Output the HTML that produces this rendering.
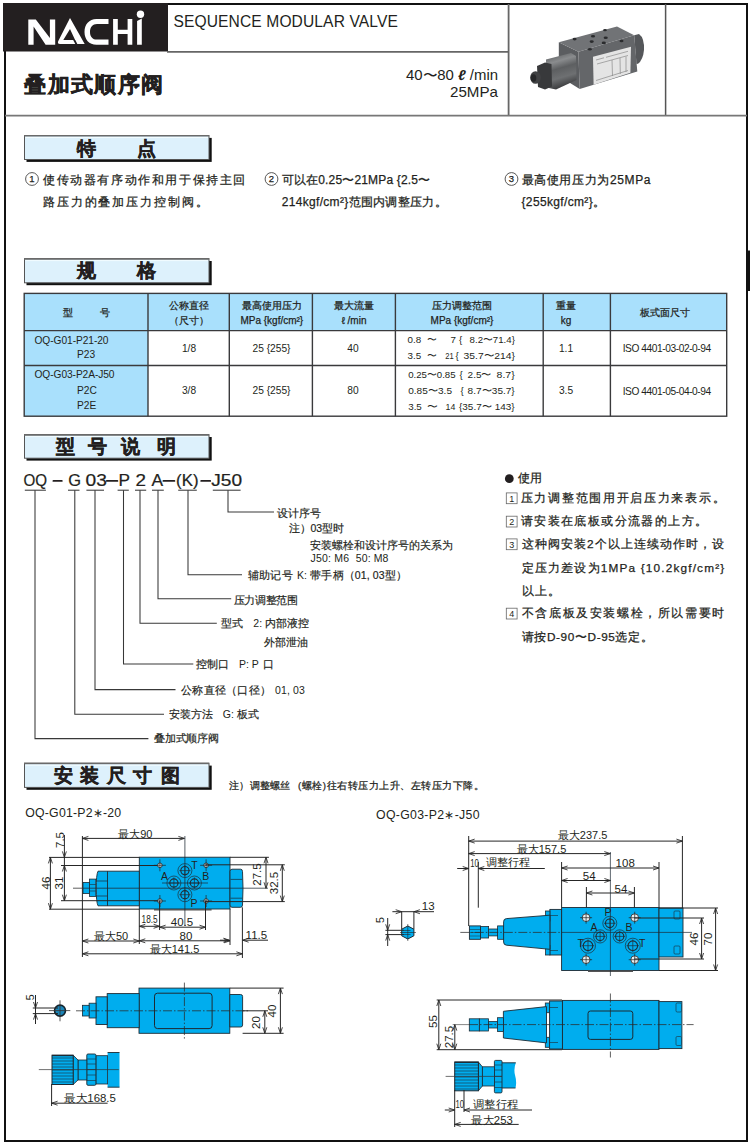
<!DOCTYPE html>
<html><head><meta charset="utf-8">
<style>
html,body{margin:0;padding:0;background:#fff;}
body{width:750px;height:1144px;overflow:hidden;position:relative;font-family:"Liberation Sans",sans-serif;}
svg{position:absolute;left:0;top:0;}
svg text{font-family:"Liberation Sans",sans-serif;fill:#231f20;}
.m{stroke:#231f20;stroke-width:0.25px;}
.m2{stroke:#231f20;stroke-width:0.18px;}
.d{fill:#2a2a2c;}
</style></head><body>
<svg width="750" height="1144" viewBox="0 0 750 1144">

<rect x="5" y="4" width="742" height="1137" fill="none" stroke="#111" stroke-width="2"/>
<rect x="3" y="3" width="165" height="48.5" fill="#231f20"/>
<g id="logo" fill="#fff">
  <path d="M28.3 19.5H35.8L49.9 38V19.5H55.2V44.7H45.6L33.6 26.5V44.7H28.3Z"/>
  <path d="M60 44Q57 44 58.3 41L70 18L84.7 44ZM63.3 40.1L70 28.9L75.1 40.1Z" fill-rule="evenodd"/>
  <path d="M73.2 40L75.3 40L77.6 44.5L75.5 44.5Z" fill="#231f20"/>
  <path d="M108.5 19H96.5C89 19 84.5 24.5 84.5 31.9C84.5 39.3 89 44.7 96.5 44.7H108.5V39.6H97C92.6 39.6 90 36.5 90 31.9C90 27.3 92.6 24.1 97 24.1H108.5Z"/>
  <path d="M113.1 19H117.8V29.7H127.6V19H132.3V44.7H127.6V33.9H117.8V44.7H113.1Z"/>
  <path d="M137.1 21L141.8 18.5V44.7H137.1Z"/>
  <circle cx="140.5" cy="14.3" r="3.7"/>
</g>
<line x1="167" y1="51.8" x2="508.6" y2="51.8" stroke="#666" stroke-width="1.8"/>
<line x1="508.6" y1="4" x2="508.6" y2="115.6" stroke="#666" stroke-width="1.8"/>
<line x1="665.6" y1="4" x2="665.6" y2="115.6" stroke="#555" stroke-width="1.5"/>
<line x1="5" y1="115.6" x2="747" y2="115.6" stroke="#777" stroke-width="1.8"/>
<text x="173.5" y="26.5" font-size="15.6" textLength="224.3" lengthAdjust="spacing">SEQUENCE MODULAR VALVE</text>
<text x="24.3" y="91.8" font-size="21.5" letter-spacing="1.4" font-weight="bold" stroke="#231f20" stroke-width="0.4">叠加式顺序阀</text>
<text x="406" y="79.8" font-size="14.3" textLength="92" lengthAdjust="spacingAndGlyphs">40〜80 <tspan font-weight="bold" font-style="italic">ℓ</tspan> /min</text>
<text x="450" y="97.4" font-size="14.3" textLength="48" lengthAdjust="spacingAndGlyphs">25MPa</text>
<defs><linearGradient id="cyl" x1="0" y1="0" x2="0.25" y2="1"><stop offset="0" stop-color="#505254"/><stop offset="0.3" stop-color="#8a8c8e"/><stop offset="0.5" stop-color="#5d5f61"/><stop offset="0.75" stop-color="#6e7072"/><stop offset="1" stop-color="#3e3f41"/></linearGradient></defs>
<g id="photo">
  <path d="M558.8 42.3 L578.4 51.8 L579.7 89.1 L558.8 76Z" fill="#5b5d60"/>
  <path d="M558.8 42.3 L617 26.4 L634.2 35.3 L578.4 51.8Z" fill="#717376"/>
  <path d="M578.4 51.8 L634.2 35.3 L637.3 71.4 L579.7 89.1Z" fill="#646669"/>
  <path d="M634.2 35.3 L639 34 Q644.5 38 644 50 Q643 60 638 63.8 L636.5 64Z" fill="#55575a"/>
  <path d="M593 56.8 L631 46.7 L630.4 72.7 L593.6 84.7Z" fill="#e4e4e4"/>
  <path d="M596 60 L604 57.8 M606 57.3 L628 51.3 M597 64 L628 55.5 M612 60 L612.5 76 M620 58 L620.3 74 M626 56.5 L626 72 M596 80.5 L628 70.5" stroke="#8a8a8a" stroke-width="0.7" fill="none"/>
  <path d="M546 59.5 L571 53 L576 56 L576.5 80 L556 89.5 L546.5 87.5Z" fill="url(#cyl)"/>
  <path d="M537 66 L545 62.5 L551.5 64 L552 86.5 L545 89.5 L538 87Z" fill="#38393b"/>
  <ellipse cx="535.5" cy="77.5" rx="5.3" ry="6.3" fill="#404143"/>
  <ellipse cx="533.5" cy="78" rx="2.8" ry="3.8" fill="#262729"/>
  <g fill="#2a2b2d"><ellipse cx="574.6" cy="39.1" rx="2" ry="1.3"/><ellipse cx="593" cy="36.2" rx="2.1" ry="1.3"/><ellipse cx="605" cy="30.2" rx="1.9" ry="1.1"/><ellipse cx="605.7" cy="37.8" rx="2.1" ry="1.3"/><ellipse cx="591.7" cy="41.6" rx="2.1" ry="1.3"/><ellipse cx="603.8" cy="42.9" rx="2.1" ry="1.3"/><ellipse cx="621.5" cy="41" rx="2" ry="1.2"/><ellipse cx="589.8" cy="49.2" rx="2" ry="1.3"/></g>
</g>
<rect x="746" y="250.5" width="4" height="40.5" fill="#111"/>
<rect x="26.5" y="137.9" width="185.2" height="24" fill="#111"/>
<rect x="24.5" y="135.5" width="184.5" height="24" fill="#ddf1fc" stroke="#555" stroke-width="1"/>
<line x1="24" y1="135.8" x2="209" y2="135.8" stroke="#6a6a6a" stroke-width="1.6"/>
<line x1="25.5" y1="137.5" x2="208" y2="137.5" stroke="#f2fcff" stroke-width="1"/>
<rect x="26.5" y="261.0" width="185.2" height="24.2" fill="#111"/>
<rect x="24.5" y="258.6" width="184.5" height="24.2" fill="#ddf1fc" stroke="#555" stroke-width="1"/>
<line x1="24" y1="258.90000000000003" x2="209" y2="258.90000000000003" stroke="#6a6a6a" stroke-width="1.6"/>
<line x1="25.5" y1="260.6" x2="208" y2="260.6" stroke="#f2fcff" stroke-width="1"/>
<rect x="26.5" y="437.0" width="185.2" height="23.6" fill="#111"/>
<rect x="24.5" y="434.6" width="184.5" height="23.6" fill="#ddf1fc" stroke="#555" stroke-width="1"/>
<line x1="24" y1="434.90000000000003" x2="209" y2="434.90000000000003" stroke="#6a6a6a" stroke-width="1.6"/>
<line x1="25.5" y1="436.6" x2="208" y2="436.6" stroke="#f2fcff" stroke-width="1"/>
<rect x="26.5" y="765.6" width="185.2" height="24.2" fill="#111"/>
<rect x="24.5" y="763.2" width="184.5" height="24.2" fill="#ddf1fc" stroke="#555" stroke-width="1"/>
<line x1="24" y1="763.5" x2="209" y2="763.5" stroke="#6a6a6a" stroke-width="1.6"/>
<line x1="25.5" y1="765.2" x2="208" y2="765.2" stroke="#f2fcff" stroke-width="1"/>
<text x="76.5" y="155.3" font-size="18.5" font-weight="bold" stroke="#231f20" stroke-width="0.45">特</text>
<text x="137.3" y="155.3" font-size="18.5" font-weight="bold" stroke="#231f20" stroke-width="0.45">点</text>
<text x="76.5" y="277.3" font-size="18.5" font-weight="bold" stroke="#231f20" stroke-width="0.45">规</text>
<text x="137.3" y="277.3" font-size="18.5" font-weight="bold" stroke="#231f20" stroke-width="0.45">格</text>
<text x="56.2" y="453.1" font-size="18.5" font-weight="bold" stroke="#231f20" stroke-width="0.45">型</text>
<text x="88" y="453.1" font-size="18.5" font-weight="bold" stroke="#231f20" stroke-width="0.45">号</text>
<text x="121" y="453.1" font-size="18.5" font-weight="bold" stroke="#231f20" stroke-width="0.45">说</text>
<text x="156.5" y="453.1" font-size="18.5" font-weight="bold" stroke="#231f20" stroke-width="0.45">明</text>
<text x="53.8" y="781.9" font-size="18.5" font-weight="bold" stroke="#231f20" stroke-width="0.45">安</text>
<text x="80" y="781.9" font-size="18.5" font-weight="bold" stroke="#231f20" stroke-width="0.45">装</text>
<text x="106.5" y="781.9" font-size="18.5" font-weight="bold" stroke="#231f20" stroke-width="0.45">尺</text>
<text x="133" y="781.9" font-size="18.5" font-weight="bold" stroke="#231f20" stroke-width="0.45">寸</text>
<text x="160.5" y="781.9" font-size="18.5" font-weight="bold" stroke="#231f20" stroke-width="0.45">图</text>
<circle cx="32" cy="179" r="6.4" fill="none" stroke="#444" stroke-width="0.9"/>
<text x="32" y="182.4" font-size="9.5" text-anchor="middle" class="m">1</text>
<circle cx="271.5" cy="179" r="6.4" fill="none" stroke="#444" stroke-width="0.9"/>
<text x="271.5" y="182.4" font-size="9.5" text-anchor="middle" class="m">2</text>
<circle cx="511.5" cy="179" r="6.4" fill="none" stroke="#444" stroke-width="0.9"/>
<text x="511.5" y="182.4" font-size="9.5" text-anchor="middle" class="m">3</text>
<text x="43" y="183.6" font-size="12" letter-spacing="1.6" class="m">使传动器有序动作和用于保持主回</text>
<text x="43" y="205.8" font-size="12" letter-spacing="1.87" class="m">路压力的叠加压力控制阀。</text>
<text x="281.7" y="183.6" font-size="12" textLength="148.5" lengthAdjust="spacing" class="m">可以在0.25〜21MPa {2.5〜</text>
<text x="281.7" y="205.8" font-size="12" textLength="165" lengthAdjust="spacing" class="m">214kgf/cm²}范围内调整压力。</text>
<text x="521.5" y="183.6" font-size="12" textLength="129" lengthAdjust="spacing" class="m">最高使用压力为25MPa</text>
<text x="521.5" y="205.8" font-size="12" textLength="83.5" lengthAdjust="spacing" class="m">{255kgf/cm²}。</text>
<rect x="24" y="293.4" width="702.7" height="37" fill="#a9e0fc"/>
<rect x="24" y="330.4" width="124" height="86" fill="#a9e0fc"/>
<g stroke="#3a3a3c" stroke-width="1.4" fill="none">
<rect x="24.2" y="293.4" width="702.5" height="122.8"/>
<line x1="24" y1="330.6" x2="726.7" y2="330.6"/>
<line x1="24" y1="365.5" x2="726.7" y2="365.5"/>
<line x1="148" y1="293.4" x2="148" y2="416.2"/>
<line x1="229.3" y1="293.4" x2="229.3" y2="416.2"/>
<line x1="312.4" y1="293.4" x2="312.4" y2="416.2"/>
<line x1="395.4" y1="293.4" x2="395.4" y2="416.2"/>
<line x1="543.2" y1="293.4" x2="543.2" y2="416.2"/>
<line x1="610.4" y1="293.4" x2="610.4" y2="416.2"/>
</g>
<g font-size="10">
<text x="62.5" y="316.3" font-size="10" class="m">型</text>
<text x="100.2" y="316.3" font-size="10" class="m">号</text>
<text x="188.8" y="309" font-size="10" text-anchor="middle" class="m">公称直径</text>
<text x="188.8" y="323.5" font-size="10" text-anchor="middle" class="m">（尺寸）</text>
<text x="271.8" y="309" font-size="10" text-anchor="middle" class="m">最高使用压力</text>
<text x="271.8" y="323.5" font-size="10" text-anchor="middle" class="m">MPa {kgf/cm²}</text>
<text x="354" y="309" font-size="10" text-anchor="middle" class="m">最大流量</text>
<text x="354" y="323.5" font-size="10" text-anchor="middle" class="m">ℓ /min</text>
<text x="462" y="309" font-size="10" text-anchor="middle" class="m">压力调整范围</text>
<text x="462" y="323.5" font-size="10" text-anchor="middle" class="m">MPa {kgf/cm²}</text>
<text x="566" y="309" font-size="10" text-anchor="middle" class="m">重量</text>
<text x="566" y="323.5" font-size="10" text-anchor="middle" class="m">kg</text>
<text x="665" y="316" font-size="10" text-anchor="middle" class="m">板式面尺寸</text>
</g>
<text x="34.5" y="343.5" font-size="10.2" textLength="74" lengthAdjust="spacing">OQ-G01-P21-20</text>
<text x="77" y="358" font-size="10.2">P23</text>
<text x="34.5" y="377.7" font-size="10.2" textLength="80" lengthAdjust="spacing">OQ-G03-P2A-J50</text>
<text x="77" y="393.7" font-size="10.2">P2C</text>
<text x="77" y="408.5" font-size="10.2">P2E</text>
<text x="189" y="351.5" font-size="10.2" text-anchor="middle">1/8</text>
<text x="189" y="394" font-size="10.2" text-anchor="middle">3/8</text>
<text x="271.5" y="351.5" font-size="10.2" text-anchor="middle">25 {255}</text>
<text x="271.5" y="394" font-size="10.2" text-anchor="middle">25 {255}</text>
<text x="353" y="351.5" font-size="10.2" text-anchor="middle">40</text>
<text x="353" y="394" font-size="10.2" text-anchor="middle">80</text>
<text x="566" y="351.5" font-size="10.2" text-anchor="middle">1.1</text>
<text x="566" y="394" font-size="10.2" text-anchor="middle">3.5</text>
<text x="622.7" y="351.5" font-size="10.2" textLength="88.5" lengthAdjust="spacing">ISO 4401-03-02-0-94</text>
<text x="622.7" y="394.5" font-size="10.2" textLength="88.5" lengthAdjust="spacing">ISO 4401-05-04-0-94</text>
<text x="407.6" y="343.4" font-size="9.8">0.8</text>
<text x="426.6" y="343.4" font-size="9.8" textLength="9.8" lengthAdjust="spacingAndGlyphs">〜</text>
<text x="450.6" y="343.4" font-size="9.8">7</text>
<text x="458.90000000000003" y="343.4" font-size="9.8">{</text>
<text x="469.6" y="343.4" font-size="9.8" textLength="45.3" lengthAdjust="spacingAndGlyphs">8.2〜71.4}</text>
<text x="407.6" y="358.8" font-size="9.8">3.5</text>
<text x="427.1" y="358.8" font-size="9.8" textLength="9.8" lengthAdjust="spacingAndGlyphs">〜</text>
<text x="445.20000000000005" y="358.8" font-size="9.8" textLength="8.4" lengthAdjust="spacingAndGlyphs">21</text>
<text x="455.6" y="358.8" font-size="9.8">{</text>
<text x="463.6" y="358.8" font-size="9.8" textLength="51.3" lengthAdjust="spacingAndGlyphs">35.7〜214}</text>
<text x="408.20000000000005" y="378" font-size="9.8" textLength="47.4" lengthAdjust="spacingAndGlyphs">0.25〜0.85</text>
<text x="459.6" y="378" font-size="9.8">{</text>
<text x="467.6" y="378" font-size="9.8" textLength="24.1" lengthAdjust="spacingAndGlyphs">2.5〜</text>
<text x="496.6" y="378" font-size="9.8" textLength="18.1" lengthAdjust="spacingAndGlyphs">8.7}</text>
<text x="408.20000000000005" y="394.4" font-size="9.8" textLength="43.8" lengthAdjust="spacingAndGlyphs">0.85〜3.5</text>
<text x="460.6" y="394.4" font-size="9.8">{</text>
<text x="467.6" y="394.4" font-size="9.8" textLength="47.099999999999994" lengthAdjust="spacingAndGlyphs">8.7〜35.7}</text>
<text x="408.20000000000005" y="410.4" font-size="9.8">3.5</text>
<text x="426.6" y="410.4" font-size="9.8" textLength="10.8" lengthAdjust="spacingAndGlyphs">〜</text>
<text x="445.6" y="410.4" font-size="9.8" textLength="9.8" lengthAdjust="spacingAndGlyphs">14</text>
<text x="459.0" y="410.4" font-size="9.8" textLength="55.599999999999994" lengthAdjust="spacingAndGlyphs">{35.7〜 143}</text>
<text x="23.4" y="485.6" font-size="16.2" textLength="23.6" lengthAdjust="spacingAndGlyphs" stroke="#231f20" stroke-width="0.22">OQ</text>
<text x="68.3" y="485.6" font-size="16.2" textLength="12.8" lengthAdjust="spacingAndGlyphs" stroke="#231f20" stroke-width="0.22">G</text>
<text x="85.5" y="485.6" font-size="16.2" textLength="21.3" lengthAdjust="spacingAndGlyphs" stroke="#231f20" stroke-width="0.22">03</text>
<text x="118.5" y="485.6" font-size="16.2" textLength="11.5" lengthAdjust="spacingAndGlyphs" stroke="#231f20" stroke-width="0.22">P</text>
<text x="135.5" y="485.6" font-size="16.2" textLength="10.5" lengthAdjust="spacingAndGlyphs" stroke="#231f20" stroke-width="0.22">2</text>
<text x="151.6" y="485.6" font-size="16.2" textLength="11.6" lengthAdjust="spacingAndGlyphs" stroke="#231f20" stroke-width="0.22">A</text>
<text x="176.1" y="485.6" font-size="16.2" textLength="22.4" lengthAdjust="spacingAndGlyphs" stroke="#231f20" stroke-width="0.22">(K)</text>
<text x="211.3" y="485.6" font-size="16.2" textLength="30.8" lengthAdjust="spacingAndGlyphs" stroke="#231f20" stroke-width="0.22">J50</text>
<g stroke="#231f20" stroke-width="1.8" stroke-linecap="round">
<line x1="53.4" y1="480.9" x2="61.8" y2="480.9"/>
<line x1="106.8" y1="480.9" x2="117.4" y2="480.9"/>
<line x1="163.4" y1="480.9" x2="174.4" y2="480.9"/>
<line x1="201.2" y1="480.9" x2="210.20000000000002" y2="480.9"/>
</g>
<g stroke="#383838" stroke-width="1.05" fill="none">
<line x1="24.8" y1="490.2" x2="45.9" y2="490.2"/>
<line x1="68" y1="490.2" x2="79.5" y2="490.2"/>
<line x1="86.4" y1="490.2" x2="104" y2="490.2"/>
<line x1="117.6" y1="490.2" x2="128.8" y2="490.2"/>
<line x1="135" y1="490.2" x2="146.2" y2="490.2"/>
<line x1="152" y1="490.2" x2="163.8" y2="490.2"/>
<line x1="178.2" y1="490.2" x2="196.8" y2="490.2"/>
<line x1="212.8" y1="490.2" x2="240.6" y2="490.2"/>
<polyline points="35.0,490.2 35.0,738.6 148.4,738.6"/>
<polyline points="74.8,490.2 74.8,714.3 164,714.3"/>
<polyline points="95,490.2 95,689.6 175.5,689.6"/>
<polyline points="123.5,490.2 123.5,663.9 193.3,663.9"/>
<polyline points="140,490.2 140,623.2 216.8,623.2"/>
<polyline points="158,490.2 158,598.8 231.2,598.8"/>
<polyline points="188,490.2 188,574.8 242,574.8"/>
<polyline points="228,490.2 228,512 274,512"/>
</g>
<text x="277.2" y="517.3" font-size="10.5" letter-spacing="0.05" class="m2">设计序号</text>
<text x="288.7" y="531.7" font-size="10.5" textLength="55" lengthAdjust="spacing" class="m2">注）03型时</text>
<text x="310.2" y="548.9" font-size="10.5" letter-spacing="-0.02" class="m2">安装螺栓和设计序号的关系为</text>
<text x="310.5" y="562" font-size="10.5" textLength="38.6" lengthAdjust="spacing">J50: M6</text>
<text x="355.8" y="562" font-size="10.5" textLength="32.6" lengthAdjust="spacing">50: M8</text>
<text x="247.8" y="579.0" font-size="10.5" letter-spacing="0.3" class="m2">辅助记号</text>
<text x="297.1" y="579.0" font-size="10.5">K:</text>
<text x="310.3" y="579.0" font-size="10.5" textLength="96.5" lengthAdjust="spacing" class="m2">带手柄（01, 03型）</text>
<text x="233.5" y="603.8" font-size="10.5" letter-spacing="-0.3" class="m2">压力调整范围</text>
<text x="220.6" y="626.6" font-size="10.5" letter-spacing="0.05" class="m2">型式</text>
<text x="253.3" y="626.6" font-size="10.5">2:</text>
<text x="265.2" y="626.6" font-size="10.5" letter-spacing="0.05" class="m2">内部液控</text>
<text x="264" y="645.6" font-size="10.5" letter-spacing="0.05" class="m2">外部泄油</text>
<text x="196.1" y="668.0" font-size="10.5" letter-spacing="0.05" class="m2">控制口</text>
<text x="238.9" y="668.0" font-size="10.5">P: P</text>
<text x="262.5" y="668.0" font-size="10.5" letter-spacing="0.05" class="m2">口</text>
<text x="181" y="693.9" font-size="10.5" letter-spacing="0.3" class="m2">公称直径（口径）</text>
<text x="274.9" y="693.9" font-size="10.5" textLength="30" lengthAdjust="spacing">01, 03</text>
<text x="169" y="718.4" font-size="10.5" letter-spacing="0.05" class="m2">安装方法</text>
<text x="222.8" y="718.4" font-size="10.5">G:</text>
<text x="236.5" y="718.4" font-size="10.5" letter-spacing="0.05" class="m2">板式</text>
<text x="154.4" y="741.9" font-size="10.5" letter-spacing="-0.3" class="m2">叠加式顺序阀</text>
<circle cx="509.3" cy="478.7" r="4.4" fill="#231f20"/>
<text x="518.4" y="482.14" font-size="11.8" class="m">使用</text>
<rect x="506.3" y="492.9" width="10.8" height="10.8" fill="none" stroke="#666" stroke-width="0.8"/>
<text x="511.7" y="501.7" font-size="9" text-anchor="middle">1</text>
<rect x="506.3" y="516.2" width="10.8" height="10.8" fill="none" stroke="#666" stroke-width="0.8"/>
<text x="511.7" y="525.0" font-size="9" text-anchor="middle">2</text>
<rect x="506.3" y="538.9000000000001" width="10.8" height="10.8" fill="none" stroke="#666" stroke-width="0.8"/>
<text x="511.7" y="547.7" font-size="9" text-anchor="middle">3</text>
<rect x="506.3" y="608.2" width="10.8" height="10.8" fill="none" stroke="#666" stroke-width="0.8"/>
<text x="511.7" y="617.0" font-size="9" text-anchor="middle">4</text>
<text x="520.8" y="502.14" font-size="11.8" letter-spacing="1.7" class="m">压力调整范围用开启压力来表示。</text>
<text x="520.8" y="525.44" font-size="11.8" letter-spacing="1.4" class="m">请安装在底板或分流器的上方。</text>
<text x="521.7" y="548.14" font-size="11.8" textLength="202.5" lengthAdjust="spacing" class="m">这种阀安装2个以上连续动作时，设</text>
<text x="521.7" y="572.14" font-size="11.8" textLength="202.5" lengthAdjust="spacing" class="m">定压力差设为1MPa {10.2kgf/cm²}</text>
<text x="521.7" y="595.44" font-size="11.8" letter-spacing="1.2" class="m">以上。</text>
<text x="521.7" y="617.44" font-size="11.8" textLength="202.5" lengthAdjust="spacing" class="m">不含底板及安装螺栓，所以需要时</text>
<text x="521.7" y="641.44" font-size="11.8" textLength="131" lengthAdjust="spacing" class="m">请按D-90〜D-95选定。</text>
<text x="25.2" y="817.2" font-size="12.3" textLength="96" lengthAdjust="spacing">OQ-G01-P2∗-20</text>
<text x="376" y="818.5" font-size="12.3" textLength="103.5" lengthAdjust="spacing">OQ-G03-P2∗-J50</text>
<text x="229.3" y="789.18" font-size="9.6" textLength="60.5" lengthAdjust="spacing" class="m">注）调整螺丝</text>
<text x="298" y="789.18" font-size="9.6" textLength="186" lengthAdjust="spacing" class="m">(螺栓)往右转压力上升、左转压力下降。</text>
<rect x="139.3" y="857.2" width="90.7" height="51.8" rx="0" fill="#00adee" stroke="#1d2a33" stroke-width="0.9"/>
<line x1="154" y1="909.8" x2="211.6" y2="909.8" stroke="#555" stroke-width="1.6" />
<path d="M232 869.2H240.5Q242.5 869.2 242.5 871.5Q243.5 888 242.5 905Q242.5 907.3 240.5 907.3H232Q230 907.3 230 905V871.5Q230 869.2 232 869.2Z" fill="#00adee" stroke="#1d2a33" stroke-width="0.9"/>
<line x1="230.5" y1="879.4" x2="242.3" y2="879.4" stroke="#1d2a33" stroke-width="0.7" />
<line x1="230.5" y1="898.2" x2="242.3" y2="898.2" stroke="#1d2a33" stroke-width="0.7" />
<path d="M98 871.2H139.3V905.8H98Q96.2 902 96.2 888.5Q96.2 875 98 871.2Z" fill="#00adee" stroke="#1d2a33" stroke-width="0.9"/>
<line x1="107.5" y1="871.2" x2="107.5" y2="905.8" stroke="#1d2a33" stroke-width="0.9" />
<line x1="96.5" y1="881" x2="107.5" y2="881" stroke="#1d2a33" stroke-width="0.7" />
<line x1="96.5" y1="896" x2="107.5" y2="896" stroke="#1d2a33" stroke-width="0.7" />
<rect x="89.5" y="879.1" width="6.3" height="17.3" rx="0" fill="#00adee" stroke="#1d2a33" stroke-width="0.8"/>
<line x1="89.5" y1="884.5" x2="95.8" y2="884.5" stroke="#1d2a33" stroke-width="0.6" />
<line x1="89.5" y1="891" x2="95.8" y2="891" stroke="#1d2a33" stroke-width="0.6" />
<rect x="83" y="882.4" width="6.5" height="11.2" rx="0" fill="#00adee" stroke="#1d2a33" stroke-width="0.8"/>
<line x1="49" y1="857.4" x2="139.3" y2="857.4" stroke="#262626" stroke-width="1.0" />
<line x1="61" y1="865.5" x2="159.6" y2="865.5" stroke="#262626" stroke-width="1.0" />
<line x1="61" y1="900.7" x2="159.6" y2="900.7" stroke="#262626" stroke-width="1.0" />
<line x1="49" y1="909.2" x2="139.3" y2="909.2" stroke="#262626" stroke-width="1.0" />
<line x1="50.4" y1="857.4" x2="50.4" y2="909.2" stroke="#262626" stroke-width="1.0" />
<polyline points="48.4,863.4 50.4,857.4 52.4,863.4" fill="none" stroke="#262626" stroke-width="0.85"/>
<polyline points="48.4,903.2 50.4,909.2 52.4,903.2" fill="none" stroke="#262626" stroke-width="0.85"/>
<line x1="64.4" y1="865.5" x2="64.4" y2="900.7" stroke="#262626" stroke-width="1.0" />
<polyline points="62.400000000000006,871.5 64.4,865.5 66.4,871.5" fill="none" stroke="#262626" stroke-width="0.85"/>
<polyline points="62.400000000000006,894.7 64.4,900.7 66.4,894.7" fill="none" stroke="#262626" stroke-width="0.85"/>
<line x1="64.4" y1="835" x2="64.4" y2="866" stroke="#262626" stroke-width="1.0" />
<polyline points="62.400000000000006,851.4 64.4,857.4 66.4,851.4" fill="none" stroke="#262626" stroke-width="0.85"/>
<text x="0" y="0" font-size="11.5" text-anchor="middle" transform="translate(49.5,883) rotate(-90)">46</text>
<text x="0" y="0" font-size="11.5" text-anchor="middle" transform="translate(63,883) rotate(-90)">31</text>
<text x="0" y="0" font-size="11.5" text-anchor="middle" transform="translate(63.5,840) rotate(-90)">7.5</text>
<line x1="82.4" y1="836" x2="82.4" y2="957" stroke="#262626" stroke-width="1.0" />
<line x1="82.4" y1="838.4" x2="184.4" y2="838.4" stroke="#262626" stroke-width="1.0" />
<polyline points="88.4,836.4 82.4,838.4 88.4,840.4" fill="none" stroke="#262626" stroke-width="0.85"/>
<polyline points="178.4,836.4 184.4,838.4 178.4,840.4" fill="none" stroke="#262626" stroke-width="0.85"/>
<text x="135.3" y="837.6" font-size="11" text-anchor="middle">最大90</text>
<circle cx="159.9" cy="865.3" r="2.3" fill="#e9eef0" stroke="#222" stroke-width="0.8"/>
<line x1="153.9" y1="865.3" x2="165.9" y2="865.3" stroke="#222" stroke-width="0.7" />
<line x1="159.9" y1="859.3" x2="159.9" y2="871.3" stroke="#222" stroke-width="0.7" />
<circle cx="206.1" cy="865.3" r="2.3" fill="#e9eef0" stroke="#222" stroke-width="0.8"/>
<line x1="200.1" y1="865.3" x2="212.1" y2="865.3" stroke="#222" stroke-width="0.7" />
<line x1="206.1" y1="859.3" x2="206.1" y2="871.3" stroke="#222" stroke-width="0.7" />
<circle cx="159.9" cy="901" r="2.3" fill="#e9eef0" stroke="#222" stroke-width="0.8"/>
<line x1="153.9" y1="901" x2="165.9" y2="901" stroke="#222" stroke-width="0.7" />
<line x1="159.9" y1="895" x2="159.9" y2="907" stroke="#222" stroke-width="0.7" />
<circle cx="206.1" cy="901" r="2.3" fill="#e9eef0" stroke="#222" stroke-width="0.8"/>
<line x1="200.1" y1="901" x2="212.1" y2="901" stroke="#222" stroke-width="0.7" />
<line x1="206.1" y1="895" x2="206.1" y2="907" stroke="#222" stroke-width="0.7" />
<line x1="73" y1="888.2" x2="83" y2="888.2" stroke="#2a2a2a" stroke-width="0.75" stroke-dasharray="9 2 1.5 2"/>
<line x1="83" y1="888.2" x2="268" y2="888.2" stroke="#1d2a33" stroke-width="0.75" />
<line x1="184.9" y1="836" x2="184.9" y2="926" stroke="#1d2a33" stroke-width="0.75" />
<line x1="162" y1="883" x2="208" y2="883" stroke="#1d2a33" stroke-width="0.7" />
<circle cx="184.9" cy="870.6" r="7" fill="none" stroke="#1f2d36" stroke-width="0.7"/>
<circle cx="184.9" cy="870.6" r="4.1" fill="none" stroke="#1f2d36" stroke-width="1.1"/>
<line x1="179.3" y1="870.6" x2="190.5" y2="870.6" stroke="#1f2d36" stroke-width="0.7" />
<line x1="184.9" y1="865.0" x2="184.9" y2="876.2" stroke="#1f2d36" stroke-width="0.7" />
<circle cx="173.9" cy="883" r="7" fill="none" stroke="#1f2d36" stroke-width="0.7"/>
<circle cx="173.9" cy="883" r="4.1" fill="none" stroke="#1f2d36" stroke-width="1.1"/>
<line x1="168.3" y1="883" x2="179.5" y2="883" stroke="#1f2d36" stroke-width="0.7" />
<line x1="173.9" y1="877.4" x2="173.9" y2="888.6" stroke="#1f2d36" stroke-width="0.7" />
<circle cx="194.4" cy="883" r="7" fill="none" stroke="#1f2d36" stroke-width="0.7"/>
<circle cx="194.4" cy="883" r="4.1" fill="none" stroke="#1f2d36" stroke-width="1.1"/>
<line x1="188.8" y1="883" x2="200.0" y2="883" stroke="#1f2d36" stroke-width="0.7" />
<line x1="194.4" y1="877.4" x2="194.4" y2="888.6" stroke="#1f2d36" stroke-width="0.7" />
<circle cx="184.9" cy="894.7" r="7" fill="none" stroke="#1f2d36" stroke-width="0.7"/>
<circle cx="184.9" cy="894.7" r="4.1" fill="none" stroke="#1f2d36" stroke-width="1.1"/>
<line x1="179.3" y1="894.7" x2="190.5" y2="894.7" stroke="#1f2d36" stroke-width="0.7" />
<line x1="184.9" y1="889.1" x2="184.9" y2="900.3000000000001" stroke="#1f2d36" stroke-width="0.7" />
<text x="191.2" y="869.1" font-size="10.5">T</text>
<text x="161" y="880.1" font-size="10.5">A</text>
<text x="202.2" y="880.1" font-size="10.5">B</text>
<text x="190.5" y="907.3" font-size="10.5">P</text>
<line x1="230" y1="857.3" x2="268.9" y2="857.3" stroke="#262626" stroke-width="1.0" />
<line x1="205.5" y1="864.8" x2="284.8" y2="864.8" stroke="#262626" stroke-width="1.0" />
<line x1="205.5" y1="901.6" x2="284.8" y2="901.6" stroke="#262626" stroke-width="1.0" />
<line x1="266" y1="857.3" x2="266" y2="888.3" stroke="#262626" stroke-width="1.0" />
<polyline points="264,863.3 266,857.3 268,863.3" fill="none" stroke="#262626" stroke-width="0.85"/>
<polyline points="264,882.3 266,888.3 268,882.3" fill="none" stroke="#262626" stroke-width="0.85"/>
<line x1="282.3" y1="864.8" x2="282.3" y2="901.6" stroke="#262626" stroke-width="1.0" />
<polyline points="280.3,870.8 282.3,864.8 284.3,870.8" fill="none" stroke="#262626" stroke-width="0.85"/>
<polyline points="280.3,895.6 282.3,901.6 284.3,895.6" fill="none" stroke="#262626" stroke-width="0.85"/>
<text x="0" y="0" font-size="11.5" text-anchor="middle" transform="translate(261,874.5) rotate(-90)">27.5</text>
<text x="0" y="0" font-size="11.5" text-anchor="middle" transform="translate(277.5,883) rotate(-90)">32.5</text>
<line x1="139.3" y1="909" x2="139.3" y2="944" stroke="#262626" stroke-width="1.0" />
<line x1="159.6" y1="900.8" x2="159.6" y2="930" stroke="#262626" stroke-width="1.0" />
<line x1="205.5" y1="900.8" x2="205.5" y2="930" stroke="#262626" stroke-width="1.0" />
<line x1="230" y1="909" x2="230" y2="945" stroke="#262626" stroke-width="1.0" />
<line x1="242.4" y1="907.3" x2="242.4" y2="958" stroke="#262626" stroke-width="1.0" />
<line x1="139.3" y1="926.3" x2="159.6" y2="926.3" stroke="#262626" stroke-width="1.0" />
<polyline points="145.3,924.3 139.3,926.3 145.3,928.3" fill="none" stroke="#262626" stroke-width="0.85"/>
<polyline points="153.6,924.3 159.6,926.3 153.6,928.3" fill="none" stroke="#262626" stroke-width="0.85"/>
<text x="141.6" y="923.3" font-size="10.3" textLength="16" lengthAdjust="spacingAndGlyphs">18.5</text>
<line x1="159.6" y1="927.2" x2="205.5" y2="927.2" stroke="#262626" stroke-width="1.0" />
<polyline points="165.6,925.2 159.6,927.2 165.6,929.2" fill="none" stroke="#262626" stroke-width="0.85"/>
<polyline points="199.5,925.2 205.5,927.2 199.5,929.2" fill="none" stroke="#262626" stroke-width="0.85"/>
<text x="182" y="926.3" font-size="11.5" text-anchor="middle">40.5</text>
<line x1="139.3" y1="940.8" x2="230" y2="940.8" stroke="#262626" stroke-width="1.0" />
<polyline points="145.3,938.8 139.3,940.8 145.3,942.8" fill="none" stroke="#262626" stroke-width="0.85"/>
<polyline points="224,938.8 230,940.8 224,942.8" fill="none" stroke="#262626" stroke-width="0.85"/>
<text x="186" y="940.2" font-size="11.5" text-anchor="middle">80</text>
<line x1="82.4" y1="941" x2="139.3" y2="941" stroke="#262626" stroke-width="1.0" />
<polyline points="88.4,939 82.4,941 88.4,943" fill="none" stroke="#262626" stroke-width="0.85"/>
<polyline points="133.3,939 139.3,941 133.3,943" fill="none" stroke="#262626" stroke-width="0.85"/>
<text x="111" y="939.8" font-size="11" text-anchor="middle">最大50</text>
<line x1="82.4" y1="953.8" x2="242.4" y2="953.8" stroke="#262626" stroke-width="1.0" />
<polyline points="88.4,951.8 82.4,953.8 88.4,955.8" fill="none" stroke="#262626" stroke-width="0.85"/>
<polyline points="236.4,951.8 242.4,953.8 236.4,955.8" fill="none" stroke="#262626" stroke-width="0.85"/>
<text x="174.5" y="952.8" font-size="11" text-anchor="middle">最大141.5</text>
<line x1="220" y1="940.2" x2="229.3" y2="940.2" stroke="#262626" stroke-width="1.0" />
<polyline points="223.3,938.2 229.3,940.2 223.3,942.2" fill="none" stroke="#262626" stroke-width="0.85"/>
<line x1="242.6" y1="940.2" x2="268" y2="940.2" stroke="#262626" stroke-width="1.0" />
<polyline points="248.6,938.2 242.6,940.2 248.6,942.2" fill="none" stroke="#262626" stroke-width="0.85"/>
<text x="245.6" y="938.5" font-size="11.5">11.5</text>
<circle cx="60" cy="1010.6" r="5.5" fill="#1a85b8" stroke="#14232b" stroke-width="1.6"/>
<line x1="49" y1="1010.6" x2="70.3" y2="1010.6" stroke="#333" stroke-width="0.8" />
<line x1="60" y1="1000.3" x2="60" y2="1021.3" stroke="#333" stroke-width="0.8" />
<line x1="32.8" y1="1008" x2="58" y2="1008" stroke="#262626" stroke-width="1.0" />
<line x1="32.8" y1="1013.6" x2="58" y2="1013.6" stroke="#262626" stroke-width="1.0" />
<line x1="35.5" y1="995" x2="35.5" y2="1024" stroke="#262626" stroke-width="1.0" />
<polyline points="33.5,1002 35.5,1008 37.5,1002" fill="none" stroke="#262626" stroke-width="0.85"/>
<polyline points="33.5,1019.6 35.5,1013.6 37.5,1019.6" fill="none" stroke="#262626" stroke-width="0.85"/>
<text x="0" y="0" font-size="10.5" text-anchor="middle" transform="translate(33.8,997.3) rotate(-90)">5</text>
<rect x="139" y="988.1" width="90.8" height="45.2" rx="0" fill="#00adee" stroke="#1d2a33" stroke-width="0.9"/>
<rect x="154.5" y="993.2" width="57.6" height="35.4" rx="3" fill="none" stroke="#1d2a33" stroke-width="1"/>
<path d="M229.8 994.5H240.6Q242.6 994.5 242.6 996.5V1025Q242.6 1027 240.6 1027H229.8Z" fill="#00adee" stroke="#1d2a33" stroke-width="0.9"/>
<rect x="107.2" y="993.6" width="32.0" height="34.1" rx="0" fill="#00adee" stroke="#1d2a33" stroke-width="0.9"/>
<rect x="96" y="996.8" width="11.2" height="27.7" rx="0" fill="#00adee" stroke="#1d2a33" stroke-width="0.9"/>
<rect x="89.1" y="1003.2" width="6.9" height="14.8" rx="0" fill="#00adee" stroke="#1d2a33" stroke-width="0.8"/>
<rect x="82.4" y="1005.3" width="6.7" height="10.7" rx="0" fill="#00adee" stroke="#1d2a33" stroke-width="0.8"/>
<line x1="76" y1="1010.8" x2="250" y2="1010.8" stroke="#2a2a2a" stroke-width="0.75" stroke-dasharray="9 2 1.5 2"/>
<line x1="184.4" y1="982.6" x2="184.4" y2="1039.7" stroke="#2a2a2a" stroke-width="0.75" stroke-dasharray="9 2 1.5 2"/>
<line x1="229.8" y1="988.1" x2="283.6" y2="988.1" stroke="#262626" stroke-width="1.0" />
<line x1="242.6" y1="1033.3" x2="283.6" y2="1033.3" stroke="#262626" stroke-width="1.0" />
<line x1="242.6" y1="1010.8" x2="268" y2="1010.8" stroke="#262626" stroke-width="1.0" />
<line x1="280.4" y1="988.1" x2="280.4" y2="1033.3" stroke="#262626" stroke-width="1.0" />
<polyline points="278.4,994.1 280.4,988.1 282.4,994.1" fill="none" stroke="#262626" stroke-width="0.85"/>
<polyline points="278.4,1027.3 280.4,1033.3 282.4,1027.3" fill="none" stroke="#262626" stroke-width="0.85"/>
<line x1="264.8" y1="1010.8" x2="264.8" y2="1033.3" stroke="#262626" stroke-width="1.0" />
<polyline points="262.8,1016.8 264.8,1010.8 266.8,1016.8" fill="none" stroke="#262626" stroke-width="0.85"/>
<polyline points="262.8,1027.3 264.8,1033.3 266.8,1027.3" fill="none" stroke="#262626" stroke-width="0.85"/>
<text x="0" y="0" font-size="11.5" text-anchor="middle" transform="translate(275.8,1011) rotate(-90)">40</text>
<text x="0" y="0" font-size="11.5" text-anchor="middle" transform="translate(259.5,1022.5) rotate(-90)">20</text>
<rect x="107.6" y="1052.5" width="11.9" height="34.7" rx="0" fill="#00adee" stroke="#1d2a33" stroke-width="0"/>
<line x1="107.6" y1="1052.5" x2="119.5" y2="1052.5" stroke="#1d2a33" stroke-width="0.9" />
<line x1="107.6" y1="1087.2" x2="119.5" y2="1087.2" stroke="#1d2a33" stroke-width="0.9" />
<rect x="95.9" y="1055.7" width="11.7" height="28.3" rx="0" fill="#00adee" stroke="#1d2a33" stroke-width="0.8"/>
<rect x="86.8" y="1054" width="9.1" height="31.3" rx="1.2" fill="#00adee" stroke="#1d2a33" stroke-width="0.9"/>
<line x1="86.8" y1="1059" x2="95.9" y2="1059" stroke="#1d2a33" stroke-width="0.6" />
<line x1="86.8" y1="1064" x2="95.9" y2="1064" stroke="#1d2a33" stroke-width="0.6" />
<line x1="86.8" y1="1069.6" x2="95.9" y2="1069.6" stroke="#1d2a33" stroke-width="0.6" />
<line x1="86.8" y1="1075" x2="95.9" y2="1075" stroke="#1d2a33" stroke-width="0.6" />
<line x1="86.8" y1="1080.5" x2="95.9" y2="1080.5" stroke="#1d2a33" stroke-width="0.6" />
<rect x="78" y="1060" width="8.8" height="20" rx="0" fill="#00adee" stroke="#1d2a33" stroke-width="0.8"/>
<path d="M73.2 1055.2L78 1060V1080L73.2 1084.5Z" fill="#00adee" stroke="#1d2a33" stroke-width="0.8"/>
<rect x="52" y="1055.2" width="21.2" height="29.3" rx="0" fill="#00adee" stroke="#1d2a33" stroke-width="1"/>
<line x1="52" y1="1058" x2="73.2" y2="1058" stroke="#1d2a33" stroke-width="0.6" />
<line x1="52" y1="1061" x2="73.2" y2="1061" stroke="#1d2a33" stroke-width="0.6" />
<line x1="52" y1="1064" x2="73.2" y2="1064" stroke="#1d2a33" stroke-width="0.6" />
<line x1="52" y1="1067" x2="73.2" y2="1067" stroke="#1d2a33" stroke-width="0.6" />
<line x1="52" y1="1070" x2="73.2" y2="1070" stroke="#1d2a33" stroke-width="0.6" />
<line x1="52" y1="1073" x2="73.2" y2="1073" stroke="#1d2a33" stroke-width="0.6" />
<line x1="52" y1="1076" x2="73.2" y2="1076" stroke="#1d2a33" stroke-width="0.6" />
<line x1="52" y1="1079" x2="73.2" y2="1079" stroke="#1d2a33" stroke-width="0.6" />
<line x1="52" y1="1082" x2="73.2" y2="1082" stroke="#1d2a33" stroke-width="0.6" />
<line x1="52" y1="1055.5" x2="73.2" y2="1055.5" stroke="#1d2a33" stroke-width="1.3" />
<line x1="38.8" y1="1069.6" x2="118.8" y2="1069.6" stroke="#333" stroke-width="0.7" />
<line x1="51.6" y1="1084" x2="51.6" y2="1106" stroke="#262626" stroke-width="1.0" />
<line x1="51.6" y1="1103.2" x2="107.6" y2="1103.2" stroke="#262626" stroke-width="1.0" />
<polyline points="57.6,1101.2 51.6,1103.2 57.6,1105.2" fill="none" stroke="#262626" stroke-width="0.85"/>
<text x="64.4" y="1101.6" font-size="11" textLength="51.5" lengthAdjust="spacingAndGlyphs">最大168.5</text>
<line x1="468.7" y1="836" x2="468.7" y2="926" stroke="#262626" stroke-width="1.0" />
<line x1="478.3" y1="862" x2="478.3" y2="907.7" stroke="#262626" stroke-width="1.0" />
<line x1="468.7" y1="841.1" x2="682.4" y2="841.1" stroke="#262626" stroke-width="1.0" />
<polyline points="474.7,839.1 468.7,841.1 474.7,843.1" fill="none" stroke="#262626" stroke-width="0.85"/>
<polyline points="676.4,839.1 682.4,841.1 676.4,843.1" fill="none" stroke="#262626" stroke-width="0.85"/>
<text x="582.6" y="838.5" font-size="11" text-anchor="middle">最大237.5</text>
<line x1="468.7" y1="853.6" x2="610.3" y2="853.6" stroke="#262626" stroke-width="1.0" />
<polyline points="474.7,851.6 468.7,853.6 474.7,855.6" fill="none" stroke="#262626" stroke-width="0.85"/>
<polyline points="604.3,851.6 610.3,853.6 604.3,855.6" fill="none" stroke="#262626" stroke-width="0.85"/>
<text x="541.5" y="852.5" font-size="11" text-anchor="middle">最大157.5</text>
<line x1="457.2" y1="868.5" x2="468.7" y2="868.5" stroke="#262626" stroke-width="1.0" />
<polyline points="462.7,866.5 468.7,868.5 462.7,870.5" fill="none" stroke="#262626" stroke-width="0.85"/>
<line x1="478.3" y1="868.5" x2="544.8" y2="868.5" stroke="#262626" stroke-width="1.0" />
<polyline points="484.3,866.5 478.3,868.5 484.3,870.5" fill="none" stroke="#262626" stroke-width="0.85"/>
<text x="470.2" y="866.5" font-size="10.3" textLength="8.6" lengthAdjust="spacingAndGlyphs">10</text>
<text x="486" y="866.3" font-size="11" textLength="44.5" lengthAdjust="spacingAndGlyphs">调整行程</text>
<line x1="561.6" y1="862" x2="561.6" y2="907.5" stroke="#262626" stroke-width="1.0" />
<line x1="586.4" y1="887" x2="586.4" y2="915" stroke="#262626" stroke-width="1.0" />
<line x1="634.4" y1="887" x2="634.4" y2="915" stroke="#262626" stroke-width="1.0" />
<line x1="659" y1="862" x2="659" y2="908" stroke="#262626" stroke-width="1.0" />
<line x1="682.4" y1="836" x2="682.4" y2="908" stroke="#262626" stroke-width="1.0" />
<line x1="561.6" y1="868" x2="659" y2="868" stroke="#262626" stroke-width="1.0" />
<polyline points="567.6,866 561.6,868 567.6,870" fill="none" stroke="#262626" stroke-width="0.85"/>
<polyline points="653,866 659,868 653,870" fill="none" stroke="#262626" stroke-width="0.85"/>
<text x="615.6" y="866.5" font-size="11.5">108</text>
<line x1="561.6" y1="880.5" x2="610.4" y2="880.5" stroke="#262626" stroke-width="1.0" />
<polyline points="567.6,878.5 561.6,880.5 567.6,882.5" fill="none" stroke="#262626" stroke-width="0.85"/>
<polyline points="604.4,878.5 610.4,880.5 604.4,882.5" fill="none" stroke="#262626" stroke-width="0.85"/>
<text x="589.2" y="879.5" font-size="11.5" text-anchor="middle">54</text>
<line x1="586.4" y1="893" x2="634.4" y2="893" stroke="#262626" stroke-width="1.0" />
<polyline points="592.4,891 586.4,893 592.4,895" fill="none" stroke="#262626" stroke-width="0.85"/>
<polyline points="628.4,891 634.4,893 628.4,895" fill="none" stroke="#262626" stroke-width="0.85"/>
<text x="621" y="892.8" font-size="11.5" text-anchor="middle">54</text>
<rect x="561.6" y="907.5" width="97.4" height="63.0" rx="0" fill="#00adee" stroke="#1d2a33" stroke-width="0.9"/>
<line x1="588" y1="971.3" x2="633" y2="971.3" stroke="#555" stroke-width="1.6" />
<rect x="659" y="908" width="24" height="49" rx="0" fill="#00adee" stroke="#1d2a33" stroke-width="0.9"/>
<rect x="674" y="911" width="6" height="8" rx="1" fill="#00adee" stroke="#1d2a33" stroke-width="0.6"/>
<rect x="674" y="946" width="6" height="8" rx="1" fill="#00adee" stroke="#1d2a33" stroke-width="0.6"/>
<rect x="549.9" y="909.4" width="11.7" height="45.6" rx="0" fill="#00adee" stroke="#1d2a33" stroke-width="0.9"/>
<rect x="545.6" y="911" width="4.3" height="10" rx="0" fill="#00adee" stroke="#1d2a33" stroke-width="0.8"/>
<rect x="545.6" y="945.5" width="4.3" height="9.5" rx="0" fill="#00adee" stroke="#1d2a33" stroke-width="0.8"/>
<line x1="549.9" y1="915.5" x2="558" y2="915.5" stroke="#1d2a33" stroke-width="0.6" />
<line x1="549.9" y1="950.5" x2="558" y2="950.5" stroke="#1d2a33" stroke-width="0.6" />
<path d="M506.5 918.6L549.9 915.2V949.3L506.5 945.2Q503.6 945 503.6 942V921.8Q503.6 918.8 506.5 918.6Z" fill="#00adee" stroke="#1d2a33" stroke-width="0.9"/>
<rect x="497.6" y="925.9" width="6.0" height="13.4" rx="0" fill="#00adee" stroke="#1d2a33" stroke-width="0.8"/>
<rect x="488.6" y="929" width="9.0" height="6.9" rx="0" fill="#00adee" stroke="#1d2a33" stroke-width="0.8"/>
<rect x="480.5" y="926.5" width="8.1" height="11.5" rx="0" fill="#00adee" stroke="#1d2a33" stroke-width="0.8"/>
<rect x="469.4" y="925.9" width="11.1" height="13.4" rx="0" fill="#00adee" stroke="#1d2a33" stroke-width="0.9"/>
<line x1="469.4" y1="929.5" x2="480.5" y2="929.5" stroke="#1d2a33" stroke-width="0.5" />
<line x1="469.4" y1="932.5" x2="480.5" y2="932.5" stroke="#1d2a33" stroke-width="0.5" />
<line x1="469.4" y1="936" x2="480.5" y2="936" stroke="#1d2a33" stroke-width="0.5" />
<line x1="460.3" y1="932.4" x2="561.6" y2="932.4" stroke="#2a2a2a" stroke-width="0.75" stroke-dasharray="9 2 1.5 2"/>
<line x1="561.6" y1="932.4" x2="692" y2="932.4" stroke="#1d2a33" stroke-width="0.7" />
<line x1="610.4" y1="852" x2="610.4" y2="976" stroke="#1d2a33" stroke-width="0.7" />
<circle cx="586.1" cy="917.7" r="3.9" fill="#e9eef0" stroke="#222" stroke-width="0.8"/>
<line x1="580.1" y1="917.7" x2="592.1" y2="917.7" stroke="#222" stroke-width="0.7" />
<line x1="586.1" y1="911.7" x2="586.1" y2="923.7" stroke="#222" stroke-width="0.7" />
<circle cx="634.7" cy="917.7" r="3.9" fill="#e9eef0" stroke="#222" stroke-width="0.8"/>
<line x1="628.7" y1="917.7" x2="640.7" y2="917.7" stroke="#222" stroke-width="0.7" />
<line x1="634.7" y1="911.7" x2="634.7" y2="923.7" stroke="#222" stroke-width="0.7" />
<circle cx="586.1" cy="959.7" r="3.9" fill="#e9eef0" stroke="#222" stroke-width="0.8"/>
<line x1="580.1" y1="959.7" x2="592.1" y2="959.7" stroke="#222" stroke-width="0.7" />
<line x1="586.1" y1="953.7" x2="586.1" y2="965.7" stroke="#222" stroke-width="0.7" />
<circle cx="634.7" cy="959.7" r="3.9" fill="#e9eef0" stroke="#222" stroke-width="0.8"/>
<line x1="628.7" y1="959.7" x2="640.7" y2="959.7" stroke="#222" stroke-width="0.7" />
<line x1="634.7" y1="953.7" x2="634.7" y2="965.7" stroke="#222" stroke-width="0.7" />
<circle cx="609.8" cy="923.3" r="7" fill="none" stroke="#1f2d36" stroke-width="0.7"/>
<circle cx="609.8" cy="923.3" r="4.3" fill="none" stroke="#1f2d36" stroke-width="1.1"/>
<line x1="604.0" y1="923.3" x2="615.5999999999999" y2="923.3" stroke="#1f2d36" stroke-width="0.7" />
<line x1="609.8" y1="917.5" x2="609.8" y2="929.0999999999999" stroke="#1f2d36" stroke-width="0.7" />
<circle cx="600.1" cy="936.4" r="6.6" fill="none" stroke="#1f2d36" stroke-width="0.7"/>
<circle cx="600.1" cy="936.4" r="4.1" fill="none" stroke="#1f2d36" stroke-width="1.1"/>
<line x1="594.5" y1="936.4" x2="605.7" y2="936.4" stroke="#1f2d36" stroke-width="0.7" />
<line x1="600.1" y1="930.8" x2="600.1" y2="942.0" stroke="#1f2d36" stroke-width="0.7" />
<circle cx="619.7" cy="936.4" r="6.6" fill="none" stroke="#1f2d36" stroke-width="0.7"/>
<circle cx="619.7" cy="936.4" r="4.1" fill="none" stroke="#1f2d36" stroke-width="1.1"/>
<line x1="614.1" y1="936.4" x2="625.3000000000001" y2="936.4" stroke="#1f2d36" stroke-width="0.7" />
<line x1="619.7" y1="930.8" x2="619.7" y2="942.0" stroke="#1f2d36" stroke-width="0.7" />
<circle cx="588" cy="945.7" r="7.5" fill="none" stroke="#1f2d36" stroke-width="0.7"/>
<circle cx="588" cy="945.7" r="4.8" fill="none" stroke="#1f2d36" stroke-width="1.1"/>
<line x1="581.7" y1="945.7" x2="594.3" y2="945.7" stroke="#1f2d36" stroke-width="0.7" />
<line x1="588" y1="939.4000000000001" x2="588" y2="952.0" stroke="#1f2d36" stroke-width="0.7" />
<circle cx="632.8" cy="945.7" r="7.5" fill="none" stroke="#1f2d36" stroke-width="0.7"/>
<circle cx="632.8" cy="945.7" r="4.8" fill="none" stroke="#1f2d36" stroke-width="1.1"/>
<line x1="626.5" y1="945.7" x2="639.0999999999999" y2="945.7" stroke="#1f2d36" stroke-width="0.7" />
<line x1="632.8" y1="939.4000000000001" x2="632.8" y2="952.0" stroke="#1f2d36" stroke-width="0.7" />
<text x="604.6" y="916.4" font-size="10.5">P</text>
<text x="590.6" y="930.8" font-size="10.5">A</text>
<text x="625.5" y="930.8" font-size="10.5">B</text>
<text x="577.4" y="946.7" font-size="10.5">T</text>
<text x="639" y="946.7" font-size="10.5">T</text>
<line x1="659" y1="908" x2="718" y2="908" stroke="#262626" stroke-width="1.0" />
<line x1="634.4" y1="918" x2="704" y2="918" stroke="#262626" stroke-width="1.0" />
<line x1="634.4" y1="959" x2="704" y2="959" stroke="#262626" stroke-width="1.0" />
<line x1="659" y1="970.5" x2="718" y2="970.5" stroke="#262626" stroke-width="1.0" />
<line x1="701.6" y1="918" x2="701.6" y2="959" stroke="#262626" stroke-width="1.0" />
<polyline points="699.6,924 701.6,918 703.6,924" fill="none" stroke="#262626" stroke-width="0.85"/>
<polyline points="699.6,953 701.6,959 703.6,953" fill="none" stroke="#262626" stroke-width="0.85"/>
<line x1="715.6" y1="908" x2="715.6" y2="970.5" stroke="#262626" stroke-width="1.0" />
<polyline points="713.6,914 715.6,908 717.6,914" fill="none" stroke="#262626" stroke-width="0.85"/>
<polyline points="713.6,964.5 715.6,970.5 717.6,964.5" fill="none" stroke="#262626" stroke-width="0.85"/>
<text x="0" y="0" font-size="11.5" text-anchor="middle" transform="translate(697.5,939) rotate(-90)">46</text>
<text x="0" y="0" font-size="11.5" text-anchor="middle" transform="translate(711.5,939) rotate(-90)">70</text>
<path d="M407.8 926L413.9 929.2V935.8L407.8 939L401.7 935.8V929.2Z" fill="#00adee" stroke="#1d2a33" stroke-width="1"/>
<line x1="400" y1="932.5" x2="416" y2="932.5" stroke="#222" stroke-width="0.6" />
<line x1="407.8" y1="924" x2="407.8" y2="941" stroke="#222" stroke-width="0.6" />
<path d="M404 930.5H410.5M404 934.5H410.5" stroke="#1d2a33" stroke-width="0.6"/>
<line x1="401.7" y1="911.7" x2="401.7" y2="929.2" stroke="#262626" stroke-width="1.0" />
<line x1="413.9" y1="911.7" x2="413.9" y2="929.2" stroke="#262626" stroke-width="1.0" />
<line x1="392.4" y1="911.7" x2="434" y2="911.7" stroke="#262626" stroke-width="1.0" />
<polyline points="395.7,909.7 401.7,911.7 395.7,913.7" fill="none" stroke="#262626" stroke-width="0.85"/>
<polyline points="419.9,909.7 413.9,911.7 419.9,913.7" fill="none" stroke="#262626" stroke-width="0.85"/>
<text x="421.8" y="910" font-size="11.5">13</text>
<line x1="385.4" y1="930.3" x2="404" y2="930.3" stroke="#262626" stroke-width="1.0" />
<line x1="385.4" y1="934.6" x2="404" y2="934.6" stroke="#262626" stroke-width="1.0" />
<line x1="387.7" y1="918" x2="387.7" y2="946" stroke="#262626" stroke-width="1.0" />
<polyline points="385.7,924.3 387.7,930.3 389.7,924.3" fill="none" stroke="#262626" stroke-width="0.85"/>
<polyline points="385.7,940.6 387.7,934.6 389.7,940.6" fill="none" stroke="#262626" stroke-width="0.85"/>
<text x="0" y="0" font-size="10.5" text-anchor="middle" transform="translate(383.6,920) rotate(-90)">5</text>
<line x1="436.7" y1="1000" x2="562" y2="1000" stroke="#262626" stroke-width="1.0" />
<line x1="436.7" y1="1049.7" x2="562" y2="1049.7" stroke="#262626" stroke-width="1.0" />
<line x1="438.8" y1="1000" x2="438.8" y2="1049.7" stroke="#262626" stroke-width="1.0" />
<polyline points="436.8,1006 438.8,1000 440.8,1006" fill="none" stroke="#262626" stroke-width="0.85"/>
<polyline points="436.8,1043.7 438.8,1049.7 440.8,1043.7" fill="none" stroke="#262626" stroke-width="0.85"/>
<line x1="454.8" y1="1024.6" x2="454.8" y2="1049.7" stroke="#262626" stroke-width="1.0" />
<polyline points="452.8,1030.6 454.8,1024.6 456.8,1030.6" fill="none" stroke="#262626" stroke-width="0.85"/>
<polyline points="452.8,1043.7 454.8,1049.7 456.8,1043.7" fill="none" stroke="#262626" stroke-width="0.85"/>
<line x1="452.7" y1="1024.6" x2="469" y2="1024.6" stroke="#333" stroke-width="0.6" />
<text x="0" y="0" font-size="11.5" text-anchor="middle" transform="translate(437,1021.6) rotate(-90)">55</text>
<text x="0" y="0" font-size="11.5" text-anchor="middle" transform="translate(452.5,1037) rotate(-90)">27.5</text>
<rect x="562.4" y="1000.4" width="96.6" height="49.0" rx="0" fill="#00adee" stroke="#1d2a33" stroke-width="0.9"/>
<rect x="588" y="1011" width="44.8" height="28.4" rx="2.5" fill="none" stroke="#1d2a33" stroke-width="1"/>
<rect x="659" y="1001.6" width="22.9" height="47.0" rx="0" fill="#00adee" stroke="#1d2a33" stroke-width="0.9"/>
<rect x="676" y="1003" width="5.5" height="9" rx="1.2" fill="#00adee" stroke="#1d2a33" stroke-width="0.6"/>
<rect x="676" y="1036.5" width="5.5" height="9.0" rx="1.2" fill="#00adee" stroke="#1d2a33" stroke-width="0.6"/>
<rect x="549.6" y="1001" width="12.8" height="48" rx="0" fill="#00adee" stroke="#1d2a33" stroke-width="0.9"/>
<rect x="545.3" y="1003" width="4.3" height="9.7" rx="0" fill="#00adee" stroke="#1d2a33" stroke-width="0.8"/>
<rect x="545.3" y="1037.3" width="4.3" height="10.0" rx="0" fill="#00adee" stroke="#1d2a33" stroke-width="0.8"/>
<line x1="549.6" y1="1007.5" x2="558" y2="1007.5" stroke="#1d2a33" stroke-width="0.6" />
<line x1="549.6" y1="1042.5" x2="558" y2="1042.5" stroke="#1d2a33" stroke-width="0.6" />
<path d="M503.4 1011.3L546.5 1006.6V1042.9L503.4 1038Z" fill="#00adee" stroke="#1d2a33" stroke-width="0.9"/>
<rect x="497.5" y="1017.7" width="5.9" height="13.9" rx="0" fill="#00adee" stroke="#1d2a33" stroke-width="0.8"/>
<rect x="488.5" y="1021.6" width="9.0" height="6.4" rx="0" fill="#00adee" stroke="#1d2a33" stroke-width="0.8"/>
<rect x="479.3" y="1018.8" width="9.2" height="12.2" rx="0" fill="#00adee" stroke="#1d2a33" stroke-width="0.8"/>
<rect x="469.3" y="1018.8" width="10.0" height="12.2" rx="0" fill="#00adee" stroke="#1d2a33" stroke-width="0.8"/>
<line x1="469" y1="1024.6" x2="693.6" y2="1024.6" stroke="#2a2a2a" stroke-width="0.75" stroke-dasharray="9 2 1.5 2"/>
<line x1="610.4" y1="993.5" x2="610.4" y2="1057.5" stroke="#2a2a2a" stroke-width="0.75" stroke-dasharray="9 2 1.5 2"/>
<path d="M502 1062.8H515.8Q513.5 1069 515 1075Q517 1082 515.5 1088H502Z" fill="#00adee" stroke="#1d2a33" stroke-width="0"/>
<line x1="502" y1="1062.8" x2="515.8" y2="1062.8" stroke="#1d2a33" stroke-width="0.9" />
<line x1="502" y1="1088" x2="515.5" y2="1088" stroke="#1d2a33" stroke-width="0.9" />
<rect x="494.4" y="1060.4" width="7.6" height="32.5" rx="1.2" fill="#00adee" stroke="#1d2a33" stroke-width="0.9"/>
<line x1="494.4" y1="1065" x2="502" y2="1065" stroke="#1d2a33" stroke-width="0.6" />
<line x1="494.4" y1="1070" x2="502" y2="1070" stroke="#1d2a33" stroke-width="0.6" />
<line x1="494.4" y1="1076.4" x2="502" y2="1076.4" stroke="#1d2a33" stroke-width="0.6" />
<line x1="494.4" y1="1082" x2="502" y2="1082" stroke="#1d2a33" stroke-width="0.6" />
<line x1="494.4" y1="1087.5" x2="502" y2="1087.5" stroke="#1d2a33" stroke-width="0.6" />
<rect x="482.4" y="1066.8" width="12.0" height="19.2" rx="0" fill="#00adee" stroke="#1d2a33" stroke-width="0.8"/>
<path d="M478.4 1062L482.4 1066.8V1086L478.4 1090.8Z" fill="#00adee" stroke="#1d2a33" stroke-width="0.8"/>
<rect x="454.7" y="1062" width="23.7" height="28.8" rx="0" fill="#00adee" stroke="#1d2a33" stroke-width="1"/>
<line x1="454.7" y1="1065" x2="478.4" y2="1065" stroke="#1d2a33" stroke-width="0.6" />
<line x1="454.7" y1="1068" x2="478.4" y2="1068" stroke="#1d2a33" stroke-width="0.6" />
<line x1="454.7" y1="1071" x2="478.4" y2="1071" stroke="#1d2a33" stroke-width="0.6" />
<line x1="454.7" y1="1074" x2="478.4" y2="1074" stroke="#1d2a33" stroke-width="0.6" />
<line x1="454.7" y1="1077" x2="478.4" y2="1077" stroke="#1d2a33" stroke-width="0.6" />
<line x1="454.7" y1="1080" x2="478.4" y2="1080" stroke="#1d2a33" stroke-width="0.6" />
<line x1="454.7" y1="1083" x2="478.4" y2="1083" stroke="#1d2a33" stroke-width="0.6" />
<line x1="454.7" y1="1086" x2="478.4" y2="1086" stroke="#1d2a33" stroke-width="0.6" />
<line x1="454.7" y1="1089" x2="478.4" y2="1089" stroke="#1d2a33" stroke-width="0.6" />
<line x1="454.7" y1="1062.3" x2="478.4" y2="1062.3" stroke="#1d2a33" stroke-width="1.3" />
<line x1="445.6" y1="1076.4" x2="502" y2="1076.4" stroke="#333" stroke-width="0.7" />
<line x1="454.7" y1="1090" x2="454.7" y2="1127" stroke="#262626" stroke-width="1.0" />
<line x1="464" y1="1090" x2="464" y2="1112" stroke="#262626" stroke-width="1.0" />
<line x1="444.8" y1="1110" x2="454.7" y2="1110" stroke="#262626" stroke-width="1.0" />
<polyline points="448.7,1108 454.7,1110 448.7,1112" fill="none" stroke="#262626" stroke-width="0.85"/>
<line x1="464" y1="1110" x2="532" y2="1110" stroke="#262626" stroke-width="1.0" />
<polyline points="470,1108 464,1110 470,1112" fill="none" stroke="#262626" stroke-width="0.85"/>
<text x="455.5" y="1107.6" font-size="10.3" textLength="8.6" lengthAdjust="spacingAndGlyphs">10</text>
<text x="472.8" y="1107.8" font-size="11" textLength="45.5" lengthAdjust="spacingAndGlyphs">调整行程</text>
<line x1="454.7" y1="1124.4" x2="518.7" y2="1124.4" stroke="#262626" stroke-width="1.0" />
<polyline points="460.7,1122.4 454.7,1124.4 460.7,1126.4" fill="none" stroke="#262626" stroke-width="0.85"/>
<text x="471.2" y="1123.5" font-size="11" textLength="41.6" lengthAdjust="spacingAndGlyphs">最大253</text>
</svg>
</body></html>
